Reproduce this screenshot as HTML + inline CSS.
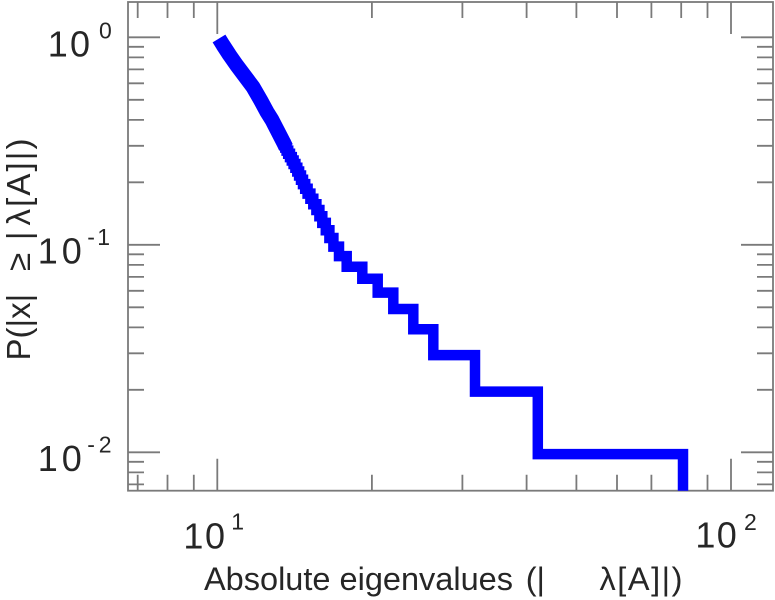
<!DOCTYPE html>
<html><head><meta charset="utf-8"><style>
html,body{margin:0;padding:0;background:#fff;}
svg{display:block;}
text{font-family:"Liberation Sans",Arial,sans-serif;fill:#262626;}
</style></head><body>
<svg width="775" height="600" viewBox="0 0 775 600" xmlns="http://www.w3.org/2000/svg">
<defs><clipPath id="c"><rect x="128" y="2" width="645" height="488.7"/></clipPath></defs>
<rect x="0" y="0" width="775" height="600" fill="#fff"/>
<g stroke="#7a7a7a" stroke-width="1.8" fill="none">
<rect x="128" y="2" width="645" height="488.7"/>
<path d="M137.7 490.7v-16M167.5 490.7v-16M193.8 490.7v-16M371.9 490.7v-16M462.4 490.7v-16M526.6 490.7v-16M576.4 490.7v-16M617 490.7v-16M651.4 490.7v-16M681.2 490.7v-16M707.5 490.7v-16M217.3 490.7v-32M731 490.7v-32"/>
<path d="M137.7 2v16M167.5 2v16M193.8 2v16M371.9 2v16M462.4 2v16M526.6 2v16M576.4 2v16M617 2v16M651.4 2v16M681.2 2v16M707.5 2v16M217.3 2v32M731 2v32"/>
<path d="M128 46.8h16M128 57.4h16M128 69.4h16M128 83.3h16M128 99.8h16M128 119.9h16M128 145.8h16M128 182.3h16M128 254.3h16M128 264.9h16M128 276.9h16M128 290.8h16M128 307.3h16M128 327.4h16M128 353.3h16M128 389.8h16M128 461.8h16M128 472.4h16M128 484.4h16M128 37.3h32M128 244.8h32M128 452.3h32"/>
<path d="M773 46.8h-16M773 57.4h-16M773 69.4h-16M773 83.3h-16M773 99.8h-16M773 119.9h-16M773 145.8h-16M773 182.3h-16M773 254.3h-16M773 264.9h-16M773 276.9h-16M773 290.8h-16M773 307.3h-16M773 327.4h-16M773 353.3h-16M773 389.8h-16M773 461.8h-16M773 472.4h-16M773 484.4h-16M773 37.3h-32M773 244.8h-32M773 452.3h-32"/>
</g>
<g clip-path="url(#c)" fill="none" stroke="#0000ff">
<path stroke-width="15" stroke-linejoin="round" stroke-linecap="butt" d="M219 38.5L223 45L229.5 55L236.5 65L244 75L253 87L260.5 100L267 112L272 120L284 143.3L286 147.5"/>
<path stroke-width="10.5" stroke-linejoin="miter" d="M282 144.6H285.3V147.6H286.6V150.6H288.2V153.8H290V157.1H291.8V160.5H293.6V164H295.4V167.7H297.3V171.5H299.1V175.5H301V179.7H303V184.1H305.2V188.7H307.6V193.6H310.4V198.8H313.3V204.2H316.4V210H319.4V216.3H322.3V222.9H325.8V230.2H329.4V238H333.4V246.6H339V256.1H346.7V266.7H362.3V278.7H377.7V292.6H393.3V309H413.3V329.2H433.3V355.1H475V391.6H537.8V454.1H683V540"/>
</g>
<text font-size="36"><tspan x="47.8" y="56.7">1</tspan><tspan x="70" y="56.7">0</tspan></text>
<text x="99" y="38.3" font-size="23">0</text>
<text font-size="36"><tspan x="37.8" y="263.3">1</tspan><tspan x="61.7" y="263.3">0</tspan></text>
<text font-size="23"><tspan x="87.3" y="245">-</tspan><tspan x="97.3" y="245">1</tspan></text>
<text font-size="36"><tspan x="37.8" y="470.8">1</tspan><tspan x="61.7" y="470.8">0</tspan></text>
<text font-size="23"><tspan x="87.3" y="452.5">-</tspan><tspan x="98.8" y="452.5">2</tspan></text>
<text font-size="36"><tspan x="183.4" y="548.3">1</tspan><tspan x="205" y="548.3">0</tspan></text>
<text x="231.3" y="529.3" font-size="23">1</text>
<text font-size="36"><tspan x="695.4" y="547.5">1</tspan><tspan x="716.7" y="547.5">0</tspan></text>
<text x="744" y="530" font-size="23">2</text>
<text font-size="32.5" x="204" y="590" textLength="309" lengthAdjust="spacing">Absolute eigenvalues</text>
<text font-size="32.5" x="525.7" y="590">(|</text>
<text font-size="32.5" x="599.5" y="590" textLength="83" lengthAdjust="spacing">λ[A]|)</text>
<g transform="translate(30,0) rotate(-90)">
<text font-size="33" y="0"><tspan x="-360.5">P(|x|</tspan><tspan x="-271">≥</tspan><tspan x="-240.1">|</tspan></text>
<text font-size="33" x="-225.5" y="0" textLength="87" lengthAdjust="spacing">λ[A]|)</text>
</g>
</svg>
</body></html>
